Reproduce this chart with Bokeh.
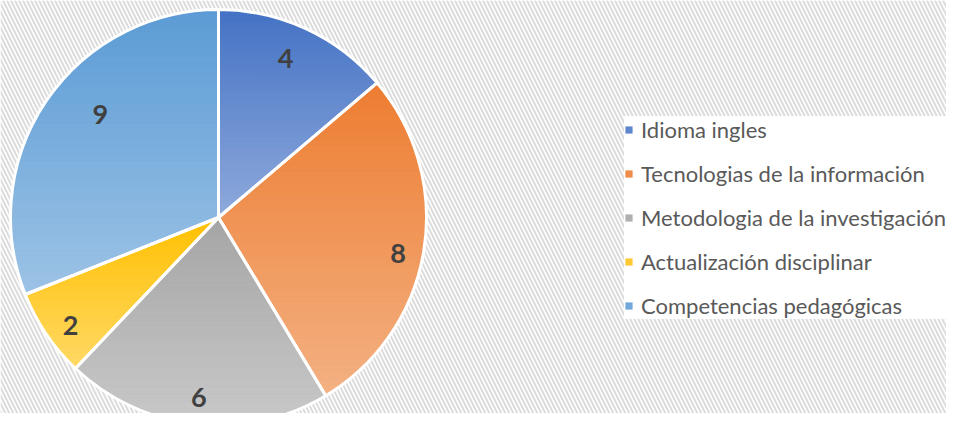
import numpy as np
from bokeh.plotting import figure
from bokeh.models import ColumnDataSource, Range1d, BoxAnnotation, Legend, LegendItem
from bokeh.core.properties import value
from bokeh.embed import file_html
from bokeh.resources import INLINE

# ---- data ----
categories = ["Idioma ingles", "Tecnologias de la información",
              "Metodologia de la investigación", "Actualización disciplinar",
              "Competencias pedagógicas"]
values = [4, 8, 6, 2, 9]

# ---- styles ----
top_colors = ["#4472C4", "#ED7D31", "#A5A5A5", "#FFC000", "#5B9BD5"]
bottom_colors = ["#8FAADC", "#F4B183", "#C9C9C9", "#FFD966", "#9DC3E6"]
mid_colors = ["#5F86CF", "#EF8C4A", "#AFAFAF", "#FFC933", "#72A8DC"]
label_radius = [0.83, 0.88, 0.87, 0.88, 0.755]
label_shift_deg = [-2, 2, 0, -2, 7]

W, H = 946, 413
CX, CY, R = 218, 204, 208

p = figure(width=W, height=H, x_range=Range1d(0, 946), y_range=Range1d(8, 421),
           output_backend="svg", toolbar_location=None,
           x_axis_location=None, y_axis_location=None, min_border=0)
p.grid.visible = False
p.outline_line_color = None
p.background_fill_color = "white"
p.border_fill_color = "white"
p.add_layout(BoxAnnotation(fill_color="white", fill_alpha=1.0, hatch_pattern="\\",
                           hatch_color="#DCDCDC", hatch_scale=8, hatch_weight=2,
                           line_color=None, level="underlay"))

vals = np.array(values, dtype=float)
total = vals.sum()
cum = np.concatenate([[0], np.cumsum(vals)])
start = np.pi / 2 - 2 * np.pi * cum[:-1] / total
end = np.pi / 2 - 2 * np.pi * cum[1:] / total

src = ColumnDataSource(dict(cat=categories, start=start, end=end,
                            color=mid_colors, x=[CX] * len(values), y=[CY] * len(values)))
base = p.wedge(x="x", y="y", radius=R, start_angle="start", end_angle="end",
               direction="clock", fill_color="color", line_color=None, source=src)


def hex2rgb(h):
    h = h.lstrip("#")
    return np.array([int(h[i:i + 2], 16) for i in (0, 2, 4)], dtype=float)


def clip(poly, yv, keep_above):
    out = []
    n = len(poly)
    for i in range(n):
        a = poly[i]
        b = poly[(i + 1) % n]
        ina = a[1] >= yv if keep_above else a[1] <= yv
        inb = b[1] >= yv if keep_above else b[1] <= yv
        if ina:
            out.append(a)
        if ina != inb:
            t = (yv - a[1]) / (b[1] - a[1])
            out.append((a[0] + t * (b[0] - a[0]), yv))
    return out


bxs, bys, bcs = [], [], []
NB = 60
for i in range(len(values)):
    angs = np.linspace(start[i], end[i], 200)
    poly = [(CX, CY)] + [(CX + R * np.cos(a), CY + R * np.sin(a)) for a in angs]
    ys = [pt[1] for pt in poly]
    ymin, ymax = min(ys), max(ys)
    c0, c1 = hex2rgb(top_colors[i]), hex2rgb(bottom_colors[i])
    edges = np.linspace(ymax, ymin, NB + 1)
    for k in range(NB):
        hi, lo = edges[k], edges[k + 1]
        pc = clip(clip(poly, lo, True), hi, False)
        if len(pc) < 3:
            continue
        t = (k + 0.5) / NB
        c = c0 + (c1 - c0) * t
        bxs.append([q[0] for q in pc])
        bys.append([q[1] for q in pc])
        bcs.append("#%02x%02x%02x" % tuple(int(round(v)) for v in c))

p.patches(xs="xs", ys="ys", fill_color="c", line_color="c", line_width=0.8,
          source=ColumnDataSource(dict(xs=bxs, ys=bys, c=bcs)))

p.wedge(x="x", y="y", radius=R, start_angle="start", end_angle="end",
        direction="clock", fill_color=None, line_color="white", line_width=3, source=src)

mid = (start + end) / 2 - np.radians(label_shift_deg)
lr = np.array(label_radius) * R
lsrc = ColumnDataSource(dict(x=CX + lr * np.cos(mid), y=CY + lr * np.sin(mid),
                             t=[str(v) for v in values]))
p.text(x="x", y="y", text="t", source=lsrc, text_align="center", text_baseline="middle",
       text_font=value("Lato"), text_font_style="bold", text_font_size="27px",
       text_color="#404040")

legend = Legend(items=[LegendItem(label=c, renderers=[base], index=i)
                       for i, c in enumerate(categories)],
                location=(624, 94), orientation="vertical",
                background_fill_color="white", background_fill_alpha=1.0,
                border_line_color=None, label_text_font="Lato",
                label_text_font_size="22px", label_text_color="#595959",
                glyph_width=9, glyph_height=9, label_standoff=8,
                padding=12, margin=0, spacing=17, label_height=24, label_width=330)
p.add_layout(legend)

open("out.html", "w").write(file_html(p, INLINE))
